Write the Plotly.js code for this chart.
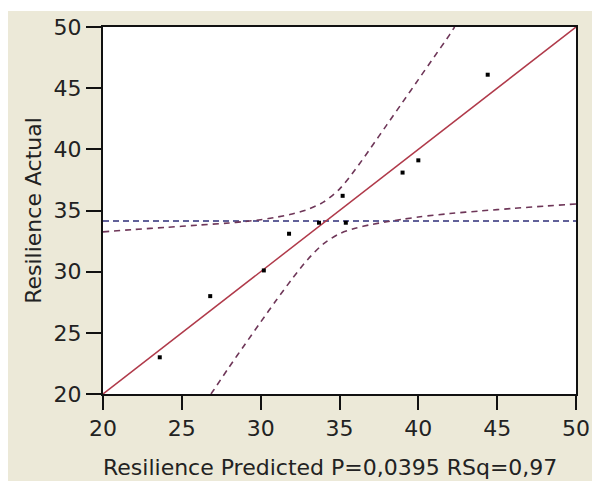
<!DOCTYPE html>
<html>
<head>
<meta charset="utf-8">
<script src="https://cdn.plot.ly/plotly-3.0.1.min.js"></script>
<style>html,body{margin:0;padding:0;background:#fff;}#chart{width:598px;height:481px;}</style>
</head>
<body>
<div id="chart"></div>
<script>
// Observed points (predicted vs actual)
var predicted = [23.6, 26.8, 30.2, 31.8, 33.7, 35.2, 35.4, 39.0, 40.0, 44.4];
var actual    = [23.0, 28.0, 30.1, 33.1, 34.0, 36.2, 34.0, 38.1, 39.1, 46.1];

// Fit line (y = x) end points
var fitX = [20, 50];
var fitY = [20, 50];

// Mean line of actual
var meanX = [20, 50];
var meanY = [34.15, 34.15];

// Upper confidence curve
var upperX = [20, 22, 24, 26, 28, 29, 30, 31, 32, 33, 34, 35, 36, 37, 38, 39, 40, 41, 42, 42.3];
var upperY = [33.25, 33.45, 33.62, 33.8, 33.98, 34.1, 34.25, 34.45, 34.72, 35.1, 35.7, 36.75, 38.35, 40.15, 42.0, 43.85, 45.7, 47.55, 49.4, 50.0];

// Lower confidence curve
var lowerX = [26.85, 27, 28, 29, 30, 31, 32, 33, 34, 35, 36, 37, 38, 39, 40, 42, 44, 46, 48, 50];
var lowerY = [20.0, 20.28, 22.2, 24.05, 25.88, 27.68, 29.42, 31.02, 32.3, 33.1, 33.55, 33.85, 34.08, 34.28, 34.47, 34.75, 34.97, 35.17, 35.36, 35.53];

var xTitle = 'Resilience Predicted P=0,0395 RSq=0,97';
var yTitle = 'Resilience Actual';

var fontFam = 'DejaVu Sans, Verdana, sans-serif';

var traces = [
  {x: meanX, y: meanY, mode: 'lines', line: {color: '#2e2e78', width: 1.5, dash: '6px,4px'}, hoverinfo: 'skip'},
  {x: upperX, y: upperY, mode: 'lines', line: {color: '#6e3658', width: 1.6, dash: '6px,5px', shape: 'spline', smoothing: 0.8}, hoverinfo: 'skip'},
  {x: lowerX, y: lowerY, mode: 'lines', line: {color: '#6e3658', width: 1.6, dash: '6px,5px', shape: 'spline', smoothing: 0.8}, hoverinfo: 'skip'},
  {x: fitX, y: fitY, mode: 'lines', line: {color: '#b03a4a', width: 1.5}, hoverinfo: 'skip'},
  {x: predicted, y: actual, mode: 'markers', marker: {symbol: 'square', size: 4, color: '#000'}}
];

var L = 103, R = 576, T = 27, B = 394, W = 598, H = 481;
var pw = R - L, ph = B - T;

var layout = {
  width: W, height: H,
  margin: {l: L, r: W - R, t: T, b: H - B, pad: 0},
  paper_bgcolor: '#ffffff',
  plot_bgcolor: '#ffffff',
  showlegend: false,
  font: {family: fontFam, size: 22, color: '#222'},
  shapes: [
    {type: 'rect', xref: 'paper', yref: 'paper', layer: 'below',
     x0: (8 - L) / pw, x1: (592 - L) / pw, y0: (B - 481) / ph, y1: (B - 11) / ph,
     fillcolor: '#ece9d8', line: {width: 0}},
    {type: 'rect', xref: 'paper', yref: 'paper', layer: 'below',
     x0: 0, x1: 1, y0: 0, y1: 1, fillcolor: '#ffffff', line: {width: 0}}
  ],
  annotations: [
    {text: xTitle, xref: 'paper', yref: 'paper', x: (330 - L) / pw, y: (B - 467) / ph,
     xanchor: 'center', yanchor: 'middle', showarrow: false,
     font: {family: fontFam, size: 22, color: '#222'}}
  ],
  xaxis: {
    range: [20, 50], dtick: 5, tick0: 20, showgrid: false, zeroline: false,
    showline: true, linecolor: '#111', linewidth: 2, mirror: true,
    ticks: 'outside', ticklen: 14, tickwidth: 2, tickcolor: '#111',
    tickfont: {family: fontFam, size: 22, color: '#222'}
  },
  yaxis: {
    range: [20, 50], dtick: 5, tick0: 20, showgrid: false, zeroline: false,
    showline: true, linecolor: '#111', linewidth: 2, mirror: true,
    ticks: 'outside', ticklen: 15, tickwidth: 2, tickcolor: '#111',
    tickfont: {family: fontFam, size: 22, color: '#222'},
    title: {text: yTitle, font: {family: fontFam, size: 22, color: '#222'}, standoff: 6}
  }
};

Plotly.newPlot('chart', traces, layout, {displayModeBar: false, staticPlot: true});
</script>
</body>
</html>
